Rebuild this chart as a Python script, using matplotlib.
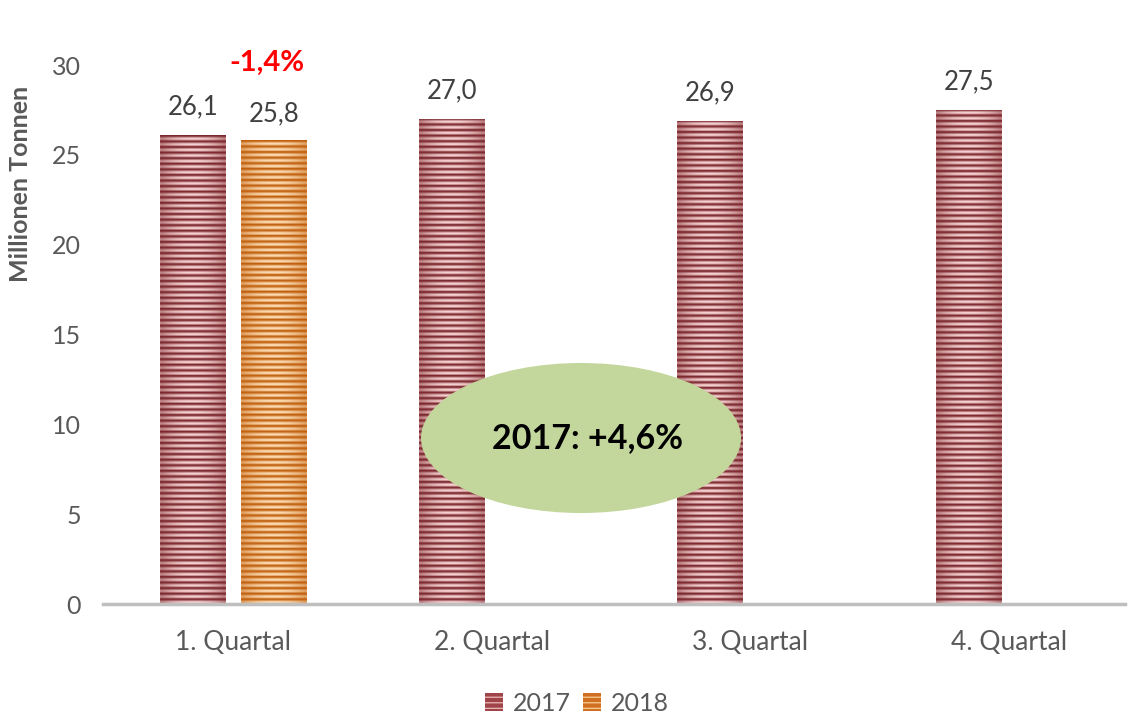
import matplotlib
matplotlib.use("Agg")
import matplotlib.pyplot as plt
import numpy as np
from matplotlib.patches import Ellipse, Patch, Rectangle

plt.rcParams['font.family'] = ['Lato', 'DejaVu Sans']
plt.rcParams['hatch.linewidth'] = 0.9

categories = ["1. Quartal", "2. Quartal", "3. Quartal", "4. Quartal"]
values_2017 = [26.1, 27.0, 26.9, 27.5]
values_2018 = [25.8, None, None, None]
labels_2017 = ["26,1", "27,0", "26,9", "27,5"]
labels_2018 = ["25,8", None, None, None]
series_names = ["2017", "2018"]
yticks = [0, 5, 10, 15, 20, 25, 30]
change_label = "-1,4%"
bubble_label = "2017: +4,6%"

fig = plt.figure(figsize=(11.29, 7.16), dpi=100)
ax = fig.add_axes([0.0912, 0.1564, 0.9053, 0.7528])
ax.set_xlim(-0.503, 3.448)
ax.set_ylim(0, 30)

def stripe_texture(dark, light, nstripes):
    dark = np.array(matplotlib.colors.to_rgb(dark))
    light = np.array(matplotlib.colors.to_rgb(light))
    pattern = np.array([0.0, 0.15, 0.6, 1.0, 1.0, 0.6])
    rows = np.tile(pattern, nstripes)
    ncols = 60
    xs = np.linspace(-1, 1, ncols)
    grad = 1 - 0.5 * xs ** 2
    grad[0] = grad[-1] = 0.6
    t = rows[:, None] * grad[None, :]
    img = dark[None, None, :] * (1 - t[..., None]) + light[None, None, :] * t[..., None]
    return img

def draw_bar(x, h, w, dark, light):
    rect = Rectangle((x - w / 2, 0), w, h, facecolor='none', edgecolor='none')
    ax.add_patch(rect)
    nstripes = max(1, int(round(h / 0.31)))
    img = stripe_texture(dark, light, nstripes)
    im = ax.imshow(img, extent=(x - w / 2, x + w / 2, 0, h), origin='upper',
                   aspect='auto', interpolation='bilinear', zorder=2)
    im.set_clip_path(rect)

w = 0.255
off1, off2 = -0.155, 0.16
x = np.arange(len(categories))
c17 = ('#7a262c', '#f6d0d0')
c18 = ('#c05f0c', '#fcdab0')
for i, v in enumerate(values_2017):
    draw_bar(x[i] + off1, v, w, *c17)
    ax.annotate(labels_2017[i], (x[i] + off1, v), xytext=(0, 11), textcoords='offset points',
                ha='center', va='bottom', fontsize=18.5, color='#404040')
for i, v in enumerate(values_2018):
    if v is None:
        continue
    draw_bar(x[i] + off2, v, w, *c18)
    ax.annotate(labels_2018[i], (x[i] + off2, v), xytext=(0, 10), textcoords='offset points',
                ha='center', va='bottom', fontsize=18.5, color='#404040')

ax.text(x[0] + 0.13, 30.1, change_label, ha='center', va='center', fontsize=21,
        fontweight='bold', color='#ff0000', clip_on=False)

ell = Ellipse((1.345, 9.24), 1.237, 8.35, facecolor='#c3d69b', edgecolor='none', zorder=3)
ax.add_patch(ell)
ax.text(1.37, 9.24, bubble_label, ha='center', va='center', fontsize=24.5,
        fontweight='bold', color='#000000', zorder=4)

ax.set_xticks(x)
ax.set_xticklabels(categories, fontsize=19, color='#595959')
ax.set_yticks(yticks)
ax.set_yticklabels([str(t) for t in yticks], fontsize=18, color='#595959')
ax.tick_params(axis='both', length=0)
ax.tick_params(axis='x', pad=19)
ax.tick_params(axis='y', pad=16)
for s in ['top', 'right', 'left']:
    ax.spines[s].set_visible(False)
ax.spines['bottom'].set_color('#bfbfbf')
ax.spines['bottom'].set_linewidth(2.5)
ax.set_ylabel("Millionen Tonnen", fontsize=18, fontweight='bold', color='#595959')
ax.yaxis.set_label_coords(-0.0695, 0.78)

handles = [Patch(facecolor='#a0444a', edgecolor='#e8b8b8', hatch='---', linewidth=0),
           Patch(facecolor='#d07020', edgecolor='#f8cc98', hatch='---', linewidth=0)]
fig.legend(handles, series_names, loc='center', bbox_to_anchor=(0.511, 0.018), ncol=2,
           frameon=False, fontsize=18, handlelength=0.75, handleheight=0.75,
           handletextpad=0.4, columnspacing=0.45, labelcolor='#595959')

fig.savefig("out.png", dpi=100)
